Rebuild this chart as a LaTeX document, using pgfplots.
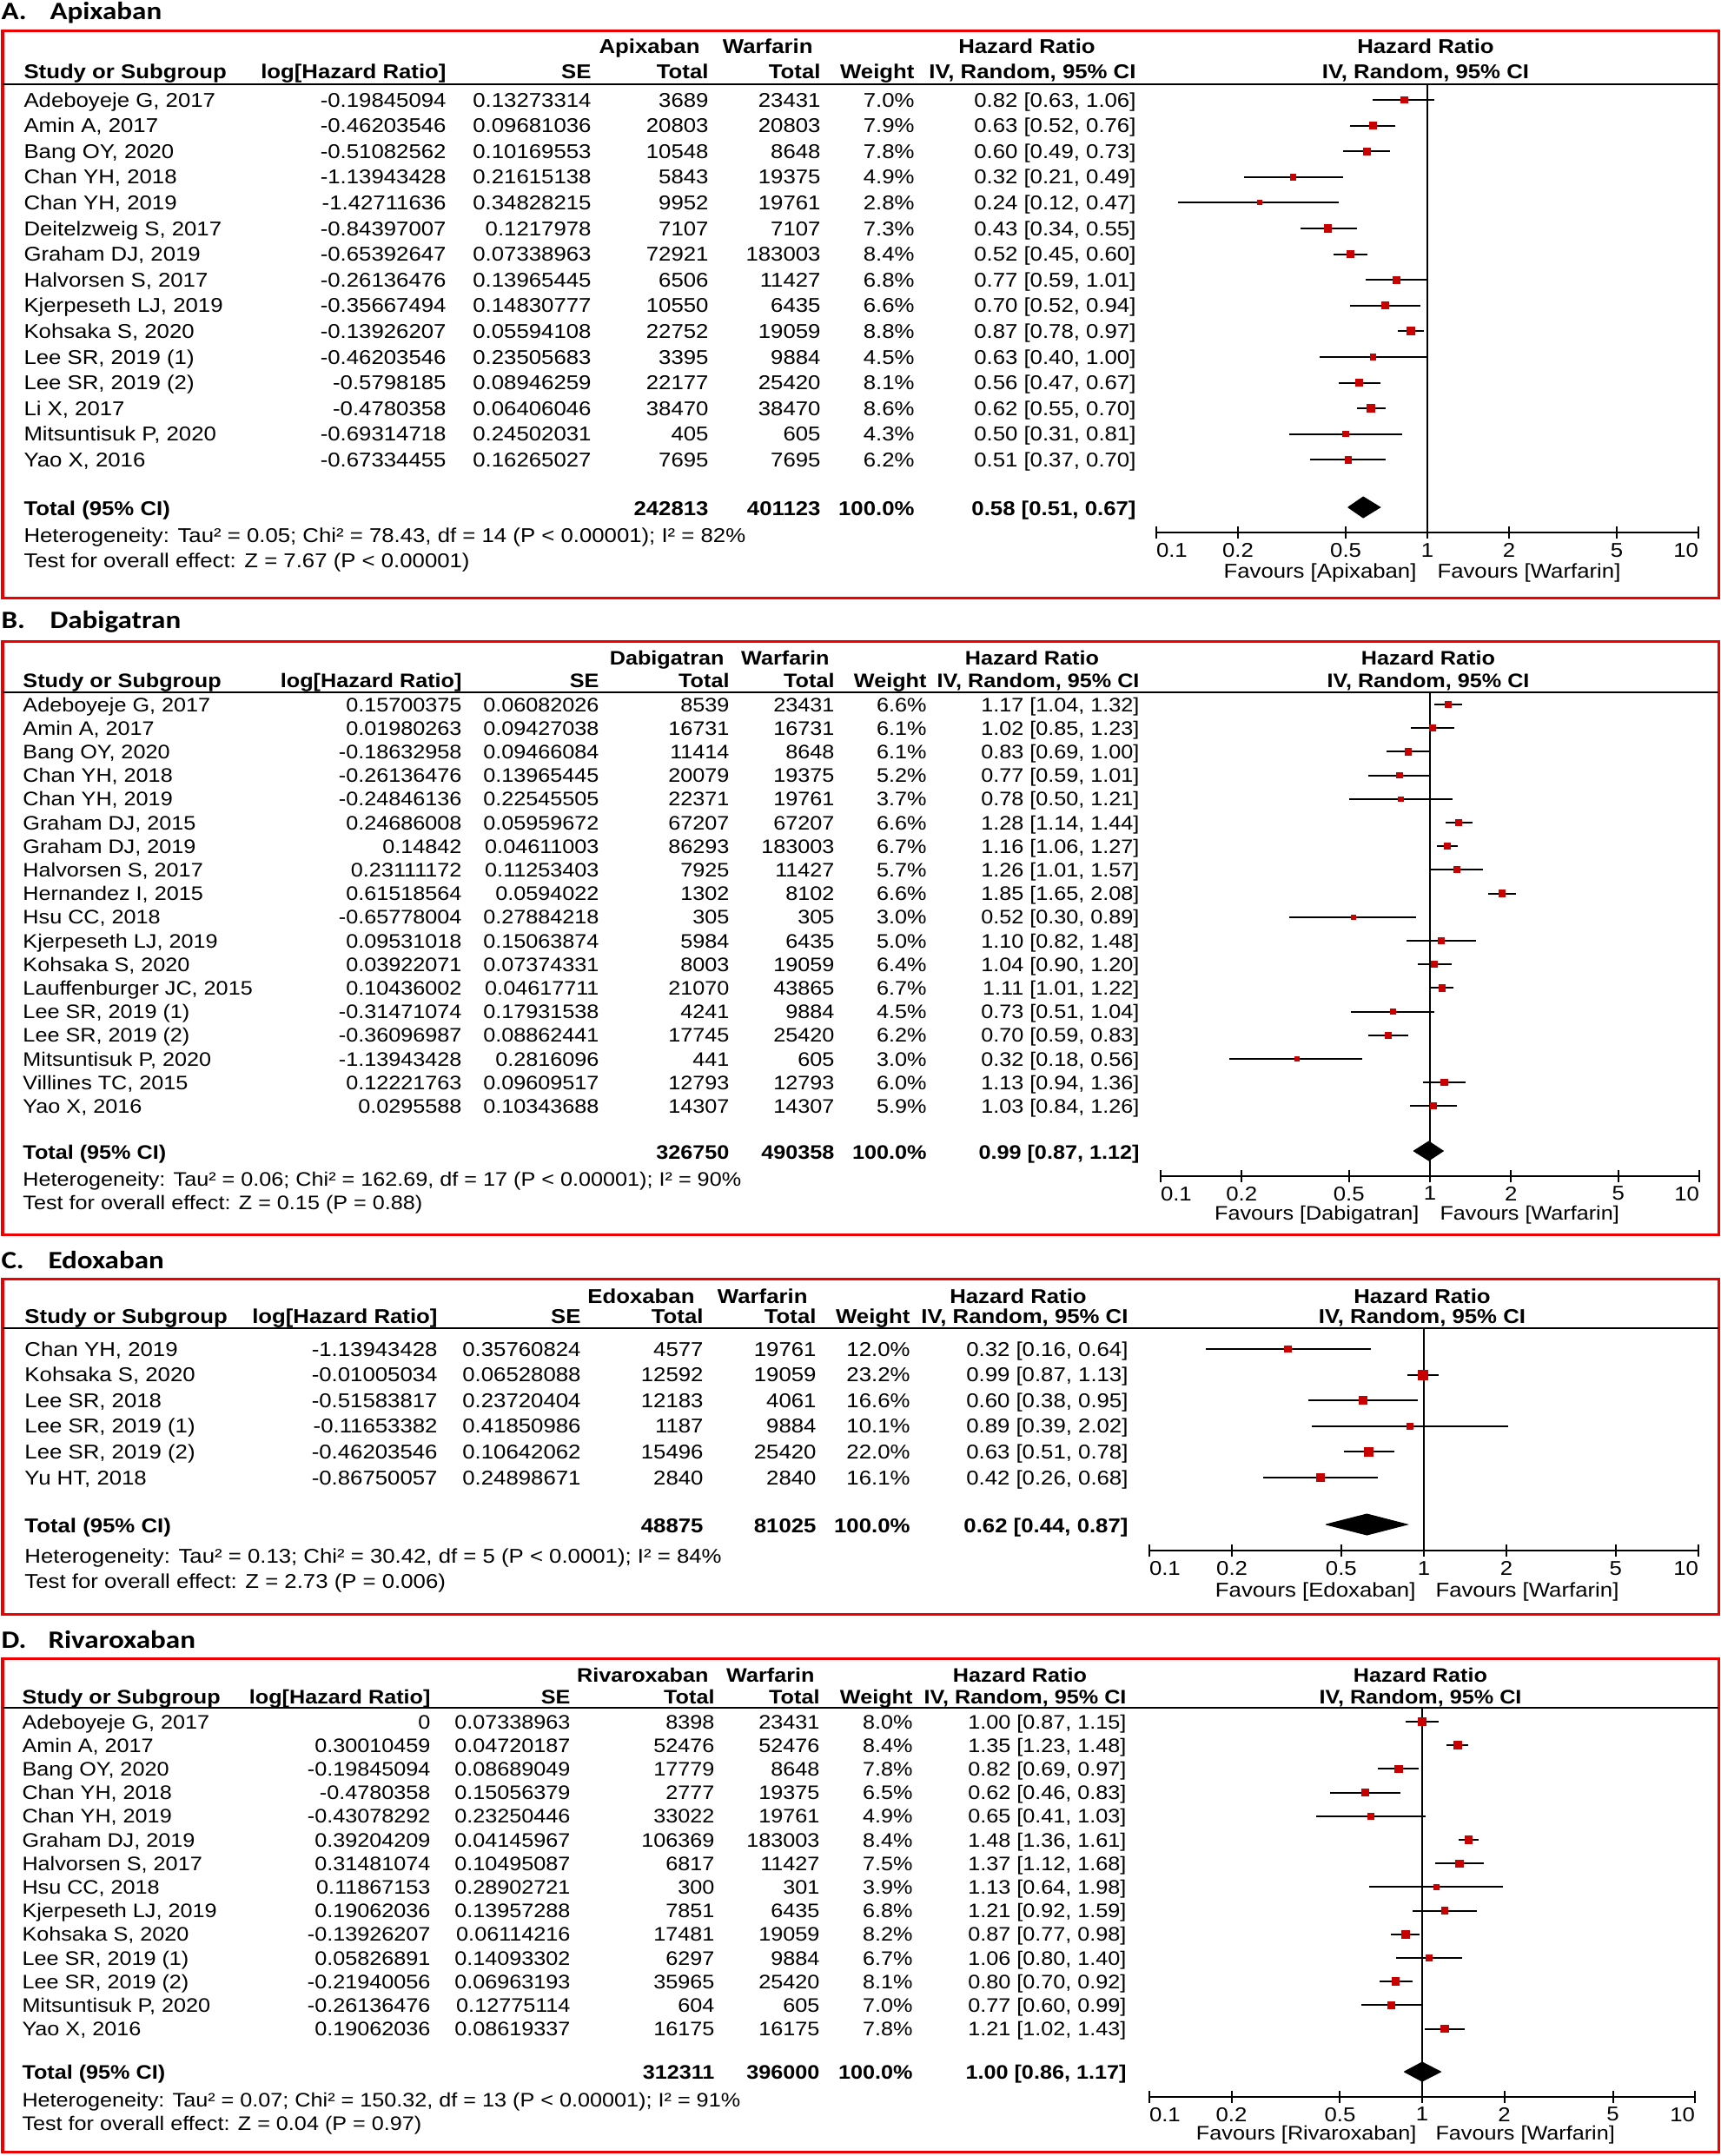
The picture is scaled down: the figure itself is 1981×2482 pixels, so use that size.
\documentclass[border=0pt]{standalone}
\usepackage{fontspec}
\usepackage{pgfplots}
\usepackage{pgfplotstable}
\pgfplotsset{compat=1.18}
\setmainfont{Liberation Sans}[FakeStretch=1.12]
\newfontfamily\ttlfont{Carlito}[FakeStretch=1.15]
\definecolor{boxred}{RGB}{238,0,0}
\definecolor{mkred}{RGB}{200,0,0}

% ---------- forest data: row, HR, lower, upper, weight ----------
\pgfplotstableread{
i hr lo hi w
1 0.82 0.63 1.06 7.0
2 0.63 0.52 0.76 7.9
3 0.60 0.49 0.73 7.8
4 0.32 0.21 0.49 4.9
5 0.24 0.12 0.47 2.8
6 0.43 0.34 0.55 7.3
7 0.52 0.45 0.60 8.4
8 0.77 0.59 1.01 6.8
9 0.70 0.52 0.94 6.6
10 0.87 0.78 0.97 8.8
11 0.63 0.40 1.00 4.5
12 0.56 0.47 0.67 8.1
13 0.62 0.55 0.70 8.6
14 0.50 0.31 0.81 4.3
15 0.51 0.37 0.70 6.2
}\dataA
\pgfplotstableread{
i hr lo hi w
1 1.17 1.04 1.32 6.6
2 1.02 0.85 1.23 6.1
3 0.83 0.69 1.00 6.1
4 0.77 0.59 1.01 5.2
5 0.78 0.50 1.21 3.7
6 1.28 1.14 1.44 6.6
7 1.16 1.06 1.27 6.7
8 1.26 1.01 1.57 5.7
9 1.85 1.65 2.08 6.6
10 0.52 0.30 0.89 3.0
11 1.10 0.82 1.48 5.0
12 1.04 0.90 1.20 6.4
13 1.11 1.01 1.22 6.7
14 0.73 0.51 1.04 4.5
15 0.70 0.59 0.83 6.2
16 0.32 0.18 0.56 3.0
17 1.13 0.94 1.36 6.0
18 1.03 0.84 1.26 5.9
}\dataB
\pgfplotstableread{
i hr lo hi w
1 0.32 0.16 0.64 12.0
2 0.99 0.87 1.13 23.2
3 0.60 0.38 0.95 16.6
4 0.89 0.39 2.02 10.1
5 0.63 0.51 0.78 22.0
6 0.42 0.26 0.68 16.1
}\dataC
\pgfplotstableread{
i hr lo hi w
1 1.00 0.87 1.15 8.0
2 1.35 1.23 1.48 8.4
3 0.82 0.69 0.97 7.8
4 0.62 0.46 0.83 6.5
5 0.65 0.41 1.03 4.9
6 1.48 1.36 1.61 8.4
7 1.37 1.12 1.68 7.5
8 1.13 0.64 1.98 3.9
9 1.21 0.92 1.59 6.8
10 0.87 0.77 0.98 8.2
11 1.06 0.80 1.40 6.7
12 0.80 0.70 0.92 8.1
13 0.77 0.60 0.99 7.0
14 1.21 1.02 1.43 7.8
}\dataD
% totals (diamond: lo, hr, hi, hr)
\pgfplotstableread{
x dy
0.51 0
0.58 -12
0.67 0
0.58 12
0.51 0
}\totA
\pgfplotstableread{
x dy
0.87 0
0.99 -11
1.12 0
0.99 11
0.87 0
}\totB
\pgfplotstableread{
x dy
0.44 0
0.62 -12
0.87 0
0.62 12
0.44 0
}\totC
\pgfplotstableread{
x dy
0.86 0
1.00 -11
1.17 0
1.00 11
0.86 0
}\totD

\pgfplotsset{forest/.style={
  scale only axis, clip=false, anchor=south west,
  xmin=-1, xmax=1,
  axis x line*=bottom, axis y line=none,
  xtick={-1,-0.69897,-0.30103,0,0.30103,0.69897,1},
  xticklabels={\rlap{0.1},0.2,0.5,1,2,5,\llap{10}},
  xtick align=center, major tick length=5.6pt,
  tick style={black, line width=0.8pt},
  axis line style={black, line width=0.8pt},
  every tick label/.append style={font=\fontsize{9.2}{11}\selectfont, inner sep=0pt},
}}

\newcommand\fs{9.2}
\tikzset{tx/.style={inner sep=0pt, font=\fontsize{\fs}{11}\selectfont},
  ttl/.style={inner sep=0pt, anchor=base west, font=\ttlfont\bfseries\fontsize{11.5}{13}\selectfont}}
\newcommand\TL[3]{\node[tx,anchor=base west] at (#1,#2) {#3};}
\newcommand\TR[3]{\node[tx,anchor=base east] at (#1,#2) {#3};}
\newcommand\TC[3]{\node[tx,anchor=base] at (#1,#2) {#3};}
\newcommand\trow[8]{\pgfmathsetmacro\qy{\qrb+(#1-1)*\qsp}%
  \TL{\qN}{\qy}{#2}\TR{\qL}{\qy}{#3}\TR{\qS}{\qy}{#4}\TR{\qA}{\qy}{#5}%
  \TR{\qB}{\qy}{#6}\TR{\qW}{\qy}{#7\%}\TR{\qC}{\qy}{#8}}
% header: #1 group1 name, #2 hdr1 base, #3 hdr2 base, #4 rule y, #5 box top, #6 box bottom, #7 group right A, #8 group right B
\newcommand\phead[8]{%
  \draw[boxred, line width=1.2pt] (3,#5) rectangle (1978,#6);
  \TR{#7}{#2}{\bfseries #1}\TR{#8}{#2}{\bfseries Warfarin}%
  \TC{\qH}{#2}{\bfseries Hazard Ratio}\TC{\qF}{#2}{\bfseries Hazard Ratio}%
  \TL{\qN}{#3}{\bfseries Study or Subgroup}\TR{\qL}{#3}{\bfseries log[Hazard Ratio]}%
  \TR{\qS}{#3}{\bfseries SE}\TR{\qA}{#3}{\bfseries Total}\TR{\qB}{#3}{\bfseries Total}%
  \TR{\qW}{#3}{\bfseries Weight}\TR{\qC}{#3}{\bfseries IV, Random, 95\% CI}%
  \TC{\qF}{#3}{\bfseries IV, Random, 95\% CI}%
  \draw[black, line width=0.8pt] (3,#4) -- (1978,#4);}
% total line: #1 y, #2 n1, #3 n2, #4 CI
\newcommand\ptot[4]{%
  \TL{\qN}{#1}{\bfseries Total (95\% CI)}\TR{\qA}{#1}{\bfseries #2}\TR{\qB}{#1}{\bfseries #3}%
  \TR{\qW}{#1}{\bfseries 100.0\%}\TR{\qC}{#1}{\bfseries #4}}

\newcommand\forestplots[1]{%
  \addplot[draw=none, mark=none, error bars/.cd, x dir=both, x explicit, error mark=none,
    error bar style={draw=black, solid, line width=0.8pt}]
    table[x expr={log10(\thisrow{hr})}, y expr={-(\qyc+(\thisrow{i}-1)*\qsp)},
      x error plus expr={log10(\thisrow{hi})-log10(\thisrow{hr})},
      x error minus expr={log10(\thisrow{hr})-log10(\thisrow{lo})}] {#1};
  \addplot[scatter, only marks, mark=square*,
    scatter/use mapped color={draw=mkred, fill=mkred},
    visualization depends on={\qmsf*sqrt(\thisrow{w}) \as \msz},
    scatter/@pre marker code/.append style={/tikz/mark size=\msz pt}]
    table[x expr={log10(\thisrow{hr})}, y expr={-(\qyc+(\thisrow{i}-1)*\qsp)}] {#1};}

\begin{document}
\begin{tikzpicture}
\begin{scope}[x=0.4pt,y=-0.4pt]
\path[use as bounding box] (0,0) rectangle (1981,2482);

% ================= Panel A =================
\def\qN{27}\def\qL{514}\def\qS{681}\def\qA{816}\def\qB{945}\def\qW{1053}\def\qC{1308}\def\qH{1182}\def\qF{1641}
\def\qrb{123}\def\qsp{29.6}
\node[ttl] at (1,22) {A.}; \node[ttl] at (57,22) {Apixaban};
\phead{Apixaban}{61}{90}{97}{35}{688}{806}{936}
\trow{1}{Adeboyeje G, 2017}{-0.19845094}{0.13273314}{3689}{23431}{7.0}{0.82 [0.63, 1.06]}
\trow{2}{Amin A, 2017}{-0.46203546}{0.09681036}{20803}{20803}{7.9}{0.63 [0.52, 0.76]}
\trow{3}{Bang OY, 2020}{-0.51082562}{0.10169553}{10548}{8648}{7.8}{0.60 [0.49, 0.73]}
\trow{4}{Chan YH, 2018}{-1.13943428}{0.21615138}{5843}{19375}{4.9}{0.32 [0.21, 0.49]}
\trow{5}{Chan YH, 2019}{-1.42711636}{0.34828215}{9952}{19761}{2.8}{0.24 [0.12, 0.47]}
\trow{6}{Deitelzweig S, 2017}{-0.84397007}{0.1217978}{7107}{7107}{7.3}{0.43 [0.34, 0.55]}
\trow{7}{Graham DJ, 2019}{-0.65392647}{0.07338963}{72921}{183003}{8.4}{0.52 [0.45, 0.60]}
\trow{8}{Halvorsen S, 2017}{-0.26136476}{0.13965445}{6506}{11427}{6.8}{0.77 [0.59, 1.01]}
\trow{9}{Kjerpeseth LJ, 2019}{-0.35667494}{0.14830777}{10550}{6435}{6.6}{0.70 [0.52, 0.94]}
\trow{10}{Kohsaka S, 2020}{-0.13926207}{0.05594108}{22752}{19059}{8.8}{0.87 [0.78, 0.97]}
\trow{11}{Lee SR, 2019 (1)}{-0.46203546}{0.23505683}{3395}{9884}{4.5}{0.63 [0.40, 1.00]}
\trow{12}{Lee SR, 2019 (2)}{-0.5798185}{0.08946259}{22177}{25420}{8.1}{0.56 [0.47, 0.67]}
\trow{13}{Li X, 2017}{-0.4780358}{0.06406046}{38470}{38470}{8.6}{0.62 [0.55, 0.70]}
\trow{14}{Mitsuntisuk P, 2020}{-0.69314718}{0.24502031}{405}{605}{4.3}{0.50 [0.31, 0.81]}
\trow{15}{Yao X, 2016}{-0.67334455}{0.16265027}{7695}{7695}{6.2}{0.51 [0.37, 0.70]}
\ptot{593}{242813}{401123}{0.58 [0.51, 0.67]}
\TL{27}{624}{Heterogeneity: Tau² = 0.05; Chi² = 78.43, df = 14 (P < 0.00001); I² = 82\%}
\TL{27}{653}{Test for overall effect: Z = 7.67 (P < 0.00001)}
\TR{1631}{665}{Favours [Apixaban]}\TL{1654}{665}{Favours [Warfarin]}
\coordinate (fA) at (1331,613);

% ================= Panel B =================
\renewcommand\fs{9.0}
\def\qN{26}\def\qL{532}\def\qS{690}\def\qA{840}\def\qB{961}\def\qW{1067}\def\qC{1312}\def\qH{1188}\def\qF{1644}
\def\qrb{819}\def\qsp{27.2}
\node[ttl] at (1,723) {B.}; \node[ttl] at (57,723) {Dabigatran};
\phead{Dabigatran}{765}{791}{797}{738}{1421}{834}{955}
\trow{1}{Adeboyeje G, 2017}{0.15700375}{0.06082026}{8539}{23431}{6.6}{1.17 [1.04, 1.32]}
\trow{2}{Amin A, 2017}{0.01980263}{0.09427038}{16731}{16731}{6.1}{1.02 [0.85, 1.23]}
\trow{3}{Bang OY, 2020}{-0.18632958}{0.09466084}{11414}{8648}{6.1}{0.83 [0.69, 1.00]}
\trow{4}{Chan YH, 2018}{-0.26136476}{0.13965445}{20079}{19375}{5.2}{0.77 [0.59, 1.01]}
\trow{5}{Chan YH, 2019}{-0.24846136}{0.22545505}{22371}{19761}{3.7}{0.78 [0.50, 1.21]}
\trow{6}{Graham DJ, 2015}{0.24686008}{0.05959672}{67207}{67207}{6.6}{1.28 [1.14, 1.44]}
\trow{7}{Graham DJ, 2019}{0.14842}{0.04611003}{86293}{183003}{6.7}{1.16 [1.06, 1.27]}
\trow{8}{Halvorsen S, 2017}{0.23111172}{0.11253403}{7925}{11427}{5.7}{1.26 [1.01, 1.57]}
\trow{9}{Hernandez I, 2015}{0.61518564}{0.0594022}{1302}{8102}{6.6}{1.85 [1.65, 2.08]}
\trow{10}{Hsu CC, 2018}{-0.65778004}{0.27884218}{305}{305}{3.0}{0.52 [0.30, 0.89]}
\trow{11}{Kjerpeseth LJ, 2019}{0.09531018}{0.15063874}{5984}{6435}{5.0}{1.10 [0.82, 1.48]}
\trow{12}{Kohsaka S, 2020}{0.03922071}{0.07374331}{8003}{19059}{6.4}{1.04 [0.90, 1.20]}
\trow{13}{Lauffenburger JC, 2015}{0.10436002}{0.04617711}{21070}{43865}{6.7}{1.11 [1.01, 1.22]}
\trow{14}{Lee SR, 2019 (1)}{-0.31471074}{0.17931538}{4241}{9884}{4.5}{0.73 [0.51, 1.04]}
\trow{15}{Lee SR, 2019 (2)}{-0.36096987}{0.08862441}{17745}{25420}{6.2}{0.70 [0.59, 0.83]}
\trow{16}{Mitsuntisuk P, 2020}{-1.13943428}{0.2816096}{441}{605}{3.0}{0.32 [0.18, 0.56]}
\trow{17}{Villines TC, 2015}{0.12221763}{0.09609517}{12793}{12793}{6.0}{1.13 [0.94, 1.36]}
\trow{18}{Yao X, 2016}{0.0295588}{0.10343688}{14307}{14307}{5.9}{1.03 [0.84, 1.26]}
\ptot{1334}{326750}{490358}{0.99 [0.87, 1.12]}
\TL{26}{1365}{Heterogeneity: Tau² = 0.06; Chi² = 162.69, df = 17 (P < 0.00001); I² = 90\%}
\TL{26}{1392}{Test for overall effect: Z = 0.15 (P = 0.88)}
\TR{1634}{1404}{Favours [Dabigatran]}\TL{1657}{1404}{Favours [Warfarin]}
\coordinate (fB) at (1336,1354);

% ================= Panel C =================
\renewcommand\fs{9.2}
\def\qN{28}\def\qL{504}\def\qS{669}\def\qA{810}\def\qB{940}\def\qW{1048}\def\qC{1299}\def\qH{1172}\def\qF{1637}
\def\qrb{1561}\def\qsp{29.6}
\node[ttl] at (1,1460) {C.}; \node[ttl] at (55,1460) {Edoxaban};
\phead{Edoxaban}{1500}{1523}{1529}{1472}{1858}{800}{930}
\trow{1}{Chan YH, 2019}{-1.13943428}{0.35760824}{4577}{19761}{12.0}{0.32 [0.16, 0.64]}
\trow{2}{Kohsaka S, 2020}{-0.01005034}{0.06528088}{12592}{19059}{23.2}{0.99 [0.87, 1.13]}
\trow{3}{Lee SR, 2018}{-0.51583817}{0.23720404}{12183}{4061}{16.6}{0.60 [0.38, 0.95]}
\trow{4}{Lee SR, 2019 (1)}{-0.11653382}{0.41850986}{1187}{9884}{10.1}{0.89 [0.39, 2.02]}
\trow{5}{Lee SR, 2019 (2)}{-0.46203546}{0.10642062}{15496}{25420}{22.0}{0.63 [0.51, 0.78]}
\trow{6}{Yu HT, 2018}{-0.86750057}{0.24898671}{2840}{2840}{16.1}{0.42 [0.26, 0.68]}
\ptot{1764}{48875}{81025}{0.62 [0.44, 0.87]}
\TL{28}{1799}{Heterogeneity: Tau² = 0.13; Chi² = 30.42, df = 5 (P < 0.0001); I² = 84\%}
\TL{28}{1828}{Test for overall effect: Z = 2.73 (P = 0.006)}
\TR{1630}{1838}{Favours [Edoxaban]}\TL{1652}{1838}{Favours [Warfarin]}
\coordinate (fC) at (1323,1785);

% ================= Panel D =================
\renewcommand\fs{9.0}
\def\qN{25}\def\qL{496}\def\qS{657}\def\qA{823}\def\qB{944}\def\qW{1051}\def\qC{1297}\def\qH{1174}\def\qF{1635}
\def\qrb{1990}\def\qsp{27.2}
\node[ttl] at (1,1897) {D.}; \node[ttl] at (55,1897) {Rivaroxaban};
\phead{Rivaroxaban}{1936}{1961}{1966}{1909}{2477}{816}{938}
\trow{1}{Adeboyeje G, 2017}{0}{0.07338963}{8398}{23431}{8.0}{1.00 [0.87, 1.15]}
\trow{2}{Amin A, 2017}{0.30010459}{0.04720187}{52476}{52476}{8.4}{1.35 [1.23, 1.48]}
\trow{3}{Bang OY, 2020}{-0.19845094}{0.08689049}{17779}{8648}{7.8}{0.82 [0.69, 0.97]}
\trow{4}{Chan YH, 2018}{-0.4780358}{0.15056379}{2777}{19375}{6.5}{0.62 [0.46, 0.83]}
\trow{5}{Chan YH, 2019}{-0.43078292}{0.23250446}{33022}{19761}{4.9}{0.65 [0.41, 1.03]}
\trow{6}{Graham DJ, 2019}{0.39204209}{0.04145967}{106369}{183003}{8.4}{1.48 [1.36, 1.61]}
\trow{7}{Halvorsen S, 2017}{0.31481074}{0.10495087}{6817}{11427}{7.5}{1.37 [1.12, 1.68]}
\trow{8}{Hsu CC, 2018}{0.11867153}{0.28902721}{300}{301}{3.9}{1.13 [0.64, 1.98]}
\trow{9}{Kjerpeseth LJ, 2019}{0.19062036}{0.13957288}{7851}{6435}{6.8}{1.21 [0.92, 1.59]}
\trow{10}{Kohsaka S, 2020}{-0.13926207}{0.06114216}{17481}{19059}{8.2}{0.87 [0.77, 0.98]}
\trow{11}{Lee SR, 2019 (1)}{0.05826891}{0.14093302}{6297}{9884}{6.7}{1.06 [0.80, 1.40]}
\trow{12}{Lee SR, 2019 (2)}{-0.21940056}{0.06963193}{35965}{25420}{8.1}{0.80 [0.70, 0.92]}
\trow{13}{Mitsuntisuk P, 2020}{-0.26136476}{0.12775114}{604}{605}{7.0}{0.77 [0.60, 0.99]}
\trow{14}{Yao X, 2016}{0.19062036}{0.08619337}{16175}{16175}{7.8}{1.21 [1.02, 1.43]}
\ptot{2393}{312311}{396000}{1.00 [0.86, 1.17]}
\TL{25}{2425}{Heterogeneity: Tau² = 0.07; Chi² = 150.32, df = 13 (P < 0.00001); I² = 91\%}
\TL{25}{2452}{Test for overall effect: Z = 0.04 (P = 0.97)}
\TR{1631}{2463}{Favours [Rivaroxaban]}\TL{1652}{2463}{Favours [Warfarin]}
\coordinate (fD) at (1323,2414);
\end{scope}

% ================= Forest axes =================
\def\qyc{115}\def\qsp{29.6}\def\qmsf{0.6}
\begin{axis}[forest, at={(fA)}, width=249.6pt, height=206.4pt, ymin=-613, ymax=-97,
  xticklabel style={anchor=north, yshift=-2pt}]
\addplot[black, line width=0.45pt] coordinates {(0,-97) (0,-613)};
\forestplots{\dataA}
\addplot[fill=black, draw=black] table[x expr={log10(\thisrow{x})}, y expr={-(584+\thisrow{dy})}] {\totA};
\end{axis}

\def\qyc{811}\def\qsp{27.2}\def\qmsf{0.58}
\begin{axis}[forest, at={(fB)}, width=248pt, height=222.8pt, ymin=-1354, ymax=-797,
  xticklabel style={anchor=north, yshift=-1.8pt}]
\addplot[black, line width=0.45pt] coordinates {(0,-797) (0,-1354)};
\forestplots{\dataB}
\addplot[fill=black, draw=black] table[x expr={log10(\thisrow{x})}, y expr={-(1325+\thisrow{dy})}] {\totB};
\end{axis}

\def\qyc{1553}\def\qsp{29.6}\def\qmsf{0.45}
\begin{axis}[forest, at={(fC)}, width=252.8pt, height=102.4pt, ymin=-1785, ymax=-1529,
  xticklabel style={anchor=north, yshift=-2pt}]
\addplot[black, line width=0.45pt] coordinates {(0,-1529) (0,-1785)};
\forestplots{\dataC}
\addplot[fill=black, draw=black] table[x expr={log10(\thisrow{x})}, y expr={-(1755+\thisrow{dy})}] {\totC};
\end{axis}

\def\qyc{1982}\def\qsp{27.2}\def\qmsf{0.6}
\begin{axis}[forest, at={(fD)}, width=251.2pt, height=179.2pt, ymin=-2414, ymax=-1966,
  xticklabel style={anchor=north, yshift=-1.8pt}]
\addplot[black, line width=0.45pt] coordinates {(0,-1966) (0,-2414)};
\forestplots{\dataD}
\addplot[fill=black, draw=black] table[x expr={log10(\thisrow{x})}, y expr={-(2385+\thisrow{dy})}] {\totD};
\end{axis}
\end{tikzpicture}
\end{document}
